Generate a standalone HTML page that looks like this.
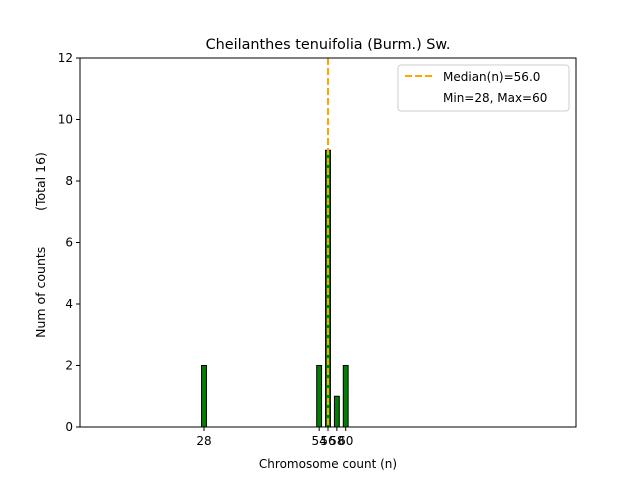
<!DOCTYPE html>
<html><head><meta charset="utf-8"><style>
body{margin:0;background:#fff;font-family:"Liberation Sans","DejaVu Sans",sans-serif;}
svg text{font-family:"DejaVu Sans","Liberation Sans",sans-serif;}
</style></head><body>
<svg id="chart" width="640" height="480" xmlns="http://www.w3.org/2000/svg">
<rect width="640" height="480" fill="#fff"/>
<text x="328" y="49" text-anchor="middle" font-size="14.4">Cheilanthes tenuifolia (Burm.) Sw.</text>
<g id="plot"></g>
<text x="328" y="468" text-anchor="middle" font-size="12">Chromosome count (n)</text>
<text transform="translate(45,245) rotate(-90)" text-anchor="middle" font-size="12.5" style="white-space:pre">Num of counts         (Total 16)</text>
<g>
<rect x="398" y="65" width="171" height="46" rx="3" fill="#fff" stroke="#ccc"/>
<line x1="405" y1="76" x2="433" y2="76" stroke="orange" stroke-width="2" stroke-dasharray="7,3"/>
<text x="443" y="81" font-size="12">Median(n)=56.0</text>
<text x="443" y="102" font-size="12">Min=28, Max=60</text>
</g>
</svg>
<script>
const categories=[28,54,56,58,60];
const counts=[2,2,9,1,2];
const yTicks=[0,2,4,6,8,10,12];
const xTicks=[28,54,56,58,60];
const median=56;
const L=80,R=576,T=58,B=427,xmin=0,xmax=112,ymax=12;
const X=v=>L+(v-xmin)/(xmax-xmin)*(R-L);
const Y=v=>B-v/ymax*(B-T);
const NS="http://www.w3.org/2000/svg";
const g=document.getElementById('plot');
function mk(t,a){const e=document.createElementNS(NS,t);for(const k in a)e.setAttribute(k,a[k]);g.appendChild(e);return e;}
categories.forEach((c,i)=>{
 const r=mk('rect',{x:X(c-0.55),y:Y(counts[i]),width:X(c+0.55)-X(c-0.55),height:B-Y(counts[i]),fill:'green',stroke:'#000','stroke-width':1});
 
 
});
const ml=mk('line',{x1:X(median),x2:X(median),y1:T,y2:B,stroke:'orange','stroke-width':2,'stroke-dasharray':'7,3'});


const fr=mk('rect',{x:L,y:T,width:R-L,height:B-T,fill:'none',stroke:'#000','stroke-width':1});


yTicks.forEach(v=>{
 mk('line',{x1:L-4,x2:L,y1:Y(v),y2:Y(v),stroke:'#000'});
 const t=mk('text',{x:L-7,y:Y(v)+4,'text-anchor':'end','font-size':12});t.textContent=v;
 
 
});
xTicks.forEach(v=>{
 mk('line',{x1:X(v),x2:X(v),y1:B,y2:B+4,stroke:'#000'});
 const t=mk('text',{x:X(v),y:B+18,'text-anchor':'middle','font-size':12});t.textContent=v;
 
 
});
</script>
</body></html>
